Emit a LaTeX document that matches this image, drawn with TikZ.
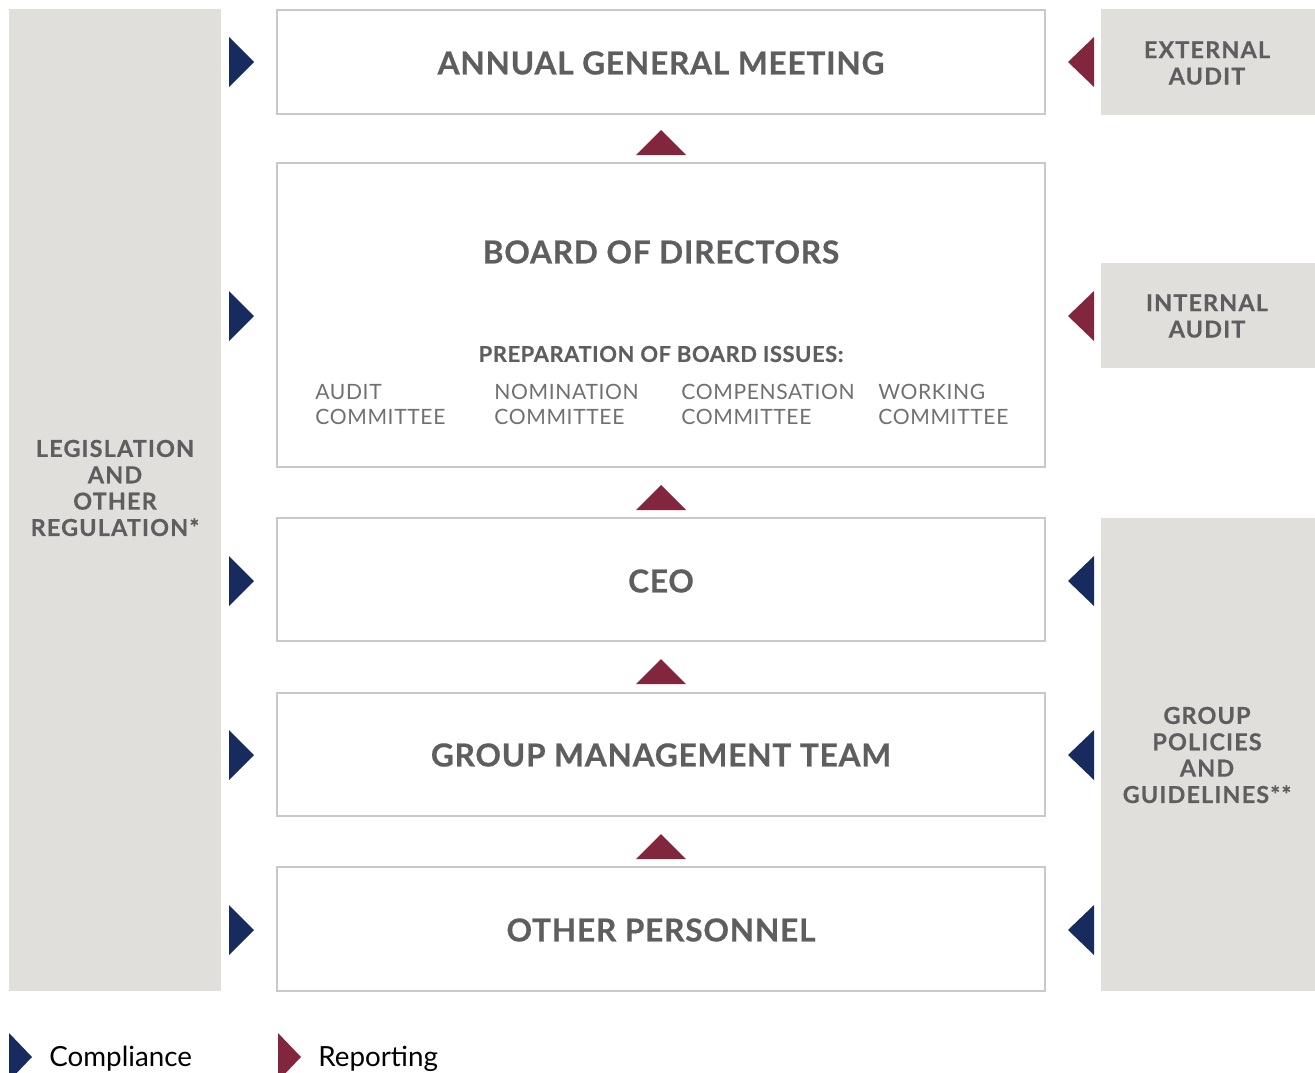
\documentclass[tikz,border=0pt]{standalone}
\usepackage{fontspec}
\setmainfont{Lato}
\definecolor{panelgrey}{HTML}{E0DFDB}
\definecolor{boxgrey}{HTML}{C9C9C9}
\definecolor{textgrey}{HTML}{5E5E60}
\definecolor{lightgrey}{HTML}{707072}
\definecolor{navy}{HTML}{172B5E}
\definecolor{wine}{HTML}{82263E}

\begin{document}
\begin{tikzpicture}[x=0.02cm, y=-0.02cm,
    panel/.style={fill=panelgrey},
    boxline/.style={draw=boxgrey, line width=1.1pt},
    title/.style={text=textgrey, font=\fontsize{18}{20}\selectfont\bfseries\addfontfeatures{LetterSpace=2.5,FakeBold=0.6}, inner sep=0pt},
    side/.style={text=textgrey, font=\fontsize{13.3}{15}\selectfont\bfseries\addfontfeatures{LetterSpace=5,FakeBold=0.5}, align=center, inner sep=0pt},
    cttee/.style={text=lightgrey, font=\fontsize{12}{14}\selectfont\addfontfeatures{LetterSpace=3}, align=left, anchor=west, inner sep=0pt},
    compl/.style={fill=navy},
    rep/.style={fill=wine}]
                \useasboundingbox (0,0) rectangle (1315,1072);
                % grey panels
                \fill [panel] (9,9) rectangle (221,991);
                \fill [panel] (1101,9) rectangle (1315,115);
                \fill [panel] (1101,263) rectangle (1315,368);
                \fill [panel] (1101,518) rectangle (1315,991);
                \node [side] (legis) at (115,488) {LEGISLATION\\AND\\OTHER\\REGULATION*};
                \node [side] (extaudit) at (1207,63) {EXTERNAL\\AUDIT};
                \node [side] (intaudit) at (1207,316) {INTERNAL\\AUDIT};
                \node [side] (policies) at (1207,755) {GROUP\\POLICIES\\AND\\GUIDELINES**};
                % boxes
                \draw [boxline] (277,10) rectangle (1045,114);
                \draw [boxline] (277,163) rectangle (1045,467);
                \draw [boxline] (277,518) rectangle (1045,641);
                \draw [boxline] (277,693) rectangle (1045,816);
                \draw [boxline] (277,867) rectangle (1045,991);
                \node [title] (agm) at (661,63) {ANNUAL GENERAL MEETING};
                \node [title] (board) at (661,252) {BOARD OF DIRECTORS};
                \node [text=textgrey, font=\fontsize{12.5}{14}\selectfont\bfseries\addfontfeatures{LetterSpace=2.5,FakeBold=0.4}, inner sep=0pt] (prep) at (661,354) {PREPARATION OF BOARD ISSUES:};
                \node [cttee] (audit) at (315,404.5) {AUDIT\\COMMITTEE};
                \node [cttee] (nomin) at (494,404.5) {NOMINATION\\COMMITTEE};
                \node [cttee] (compens) at (681,404.5) {COMPENSATION\\COMMITTEE};
                \node [cttee] (working) at (878,404.5) {WORKING\\COMMITTEE};
                \node [title] (ceo) at (661,581) {CEO};
                \node [title] (gmt) at (661,755) {GROUP MANAGEMENT TEAM};
                \node [title] (other) at (661,930) {OTHER PERSONNEL};
                % reporting upwards
                \fill [rep] (636,155) -- (661,130) -- (686,155) -- cycle;
                \fill [rep] (636,510) -- (661,485) -- (686,510) -- cycle;
                \fill [rep] (636,684) -- (661,659) -- (686,684) -- cycle;
                \fill [rep] (636,859) -- (661,834) -- (686,859) -- cycle;
                % left triangles
                \fill [compl] (229,37) -- (254,62) -- (229,87) -- cycle;
                \fill [compl] (229,291) -- (254,316) -- (229,341) -- cycle;
                \fill [compl] (229,556) -- (254,581) -- (229,606) -- cycle;
                \fill [compl] (229,730) -- (254,755) -- (229,780) -- cycle;
                \fill [compl] (229,905) -- (254,930) -- (229,955) -- cycle;
                % right triangles
                \fill [rep] (1094,37) -- (1068,62) -- (1094,87) -- cycle;
                \fill [rep] (1094,291) -- (1068,316) -- (1094,341) -- cycle;
                \fill [compl] (1094,556) -- (1068,581) -- (1094,606) -- cycle;
                \fill [compl] (1094,730) -- (1068,755) -- (1094,780) -- cycle;
                \fill [compl] (1094,905) -- (1068,930) -- (1094,955) -- cycle;
                % legend
                \fill [compl] (9,1033) -- (32,1057) -- (9,1081) -- cycle;
                \node [anchor=west, inner sep=0pt, font=\fontsize{15.8}{17}\selectfont] (complleg) at (49,1058.5) {Compliance};
                \fill [rep] (278,1033) -- (301,1057) -- (278,1081) -- cycle;
                \node [anchor=west, inner sep=0pt, font=\fontsize{15.8}{17}\selectfont] (repleg) at (318,1058.5) {Reporting};
\end{tikzpicture}
\end{document}
